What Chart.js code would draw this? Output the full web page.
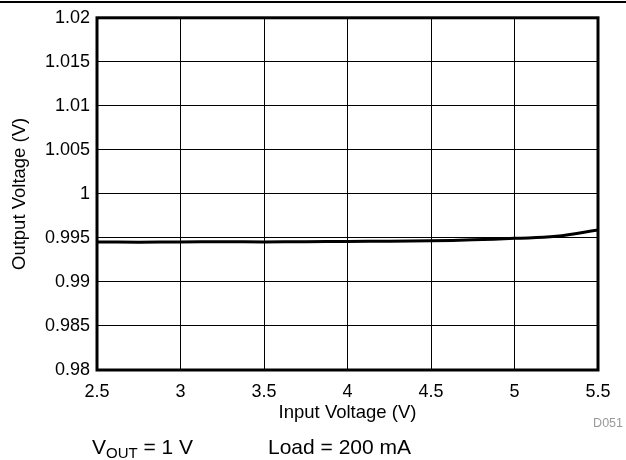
<!DOCTYPE html>
<html>
<head>
<meta charset="utf-8">
<script src="https://cdn.jsdelivr.net/npm/chart.js@4/dist/chart.umd.min.js"></script>
<style>
  html, body { margin: 0; padding: 0; background: #fff; }
  #wrap { width: 626px; height: 460px; position: relative; }
</style>
</head>
<body>
<div id="wrap"><canvas id="chart"></canvas></div>
<script>
// ===== DATA =====
const inputVoltage = [2.5, 2.75, 3, 3.25, 3.5, 3.75, 4, 4.25, 4.5, 4.75, 5, 5.25, 5.5];
const outputVoltage = [0.99455, 0.99452, 0.99455, 0.99457, 0.99455, 0.99457, 0.9946, 0.99462, 0.99467, 0.99478, 0.99495, 0.99518, 0.9959];
const xTicks = [2.5, 3, 3.5, 4, 4.5, 5, 5.5];
const yTicks = [0.98, 0.985, 0.99, 0.995, 1, 1.005, 1.01, 1.015, 1.02];

const FONT = '"Liberation Sans", Arial, sans-serif';

// titles, frame, footnote
const decorPlugin = {
    id: 'decor',
    afterDraw(chart) {
        const ctx = chart.ctx;
        const a = chart.chartArea;
        ctx.save();
        // top rule
        ctx.strokeStyle = '#000';
        ctx.lineWidth = 2;
        ctx.beginPath();
        ctx.moveTo(0, 2);
        ctx.lineTo(626, 2);
        ctx.stroke();
        // plot frame
        ctx.lineWidth = 3;
        ctx.strokeRect(a.left, a.top, a.right - a.left, a.bottom - a.top);

        ctx.fillStyle = '#000';
        ctx.font = '18.5px ' + FONT;
        ctx.textAlign = 'center';
        ctx.textBaseline = 'middle';
        ctx.fillText('Input Voltage (V)', (a.left + a.right) / 2, 413);

        ctx.save();
        ctx.translate(20, (a.top + a.bottom) / 2);
        ctx.rotate(-Math.PI / 2);
        ctx.fillText('Output Voltage (V)', 0, 0);
        ctx.restore();

        ctx.fillStyle = '#999';
        ctx.font = '12.5px ' + FONT;
        ctx.textAlign = 'right';
        ctx.fillText('D051', 623, 424);

        // footnote
        ctx.fillStyle = '#000';
        ctx.textAlign = 'left';
        ctx.textBaseline = 'alphabetic';
        let x = 92;
        const base = 454;
        ctx.font = '21px ' + FONT;
        ctx.fillText('V', x, base);
        x += ctx.measureText('V').width;
        ctx.font = '15px ' + FONT;
        ctx.fillText('OUT', x, base + 4);
        x += ctx.measureText('OUT').width;
        ctx.font = '21px ' + FONT;
        ctx.fillText(' = 1 V', x, base);
        ctx.fillText('Load = 200 mA', 268, base);
        ctx.restore();
    }
};

new Chart(document.getElementById('chart'), {
    type: 'line',
    data: {
        datasets: [{
            label: 'Output Voltage',
            data: inputVoltage.map((v, i) => ({ x: v, y: outputVoltage[i] })),
            borderColor: '#000',
            borderWidth: 3,
            pointRadius: 0,
            tension: 0.4,
            fill: false
        }]
    },
    options: {
        responsive: true,
        maintainAspectRatio: false,
        animation: false,
        layout: { padding: { top: 17, right: 28, left: 0, bottom: 0 } },
        plugins: { legend: { display: false }, tooltip: { enabled: false } },
        scales: {
            x: {
                type: 'linear',
                min: 2.5, max: 5.5,
                afterFit: (s) => { s.height = 90; },
                afterBuildTicks: (s) => { s.ticks = xTicks.map(v => ({ value: v })); },
                ticks: {
                    color: '#000',
                    font: { size: 18, family: FONT },
                    padding: 11,
                    maxRotation: 0,
                    callback: (v) => String(v)
                },
                grid: { color: '#000', lineWidth: 1, drawTicks: false },
                border: { display: false }
            },
            y: {
                type: 'linear',
                min: 0.98, max: 1.02,
                afterFit: (s) => { s.width = 97; },
                afterBuildTicks: (s) => { s.ticks = yTicks.map(v => ({ value: v })); },
                ticks: {
                    color: '#000',
                    font: { size: 18, family: FONT },
                    padding: 7,
                    callback: (v) => String(parseFloat(v.toFixed(3)))
                },
                grid: { color: '#000', lineWidth: 1, drawTicks: false },
                border: { display: false }
            }
        }
    },
    plugins: [decorPlugin]
});
</script>
</body>
</html>
